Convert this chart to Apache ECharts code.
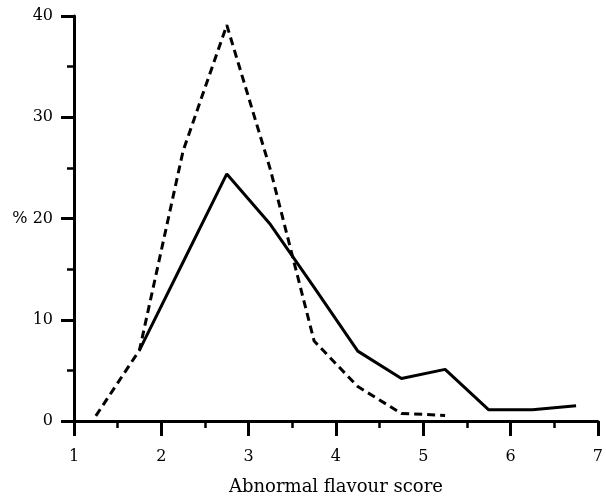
<!DOCTYPE html>
<html>
<head>
<meta charset="utf-8">
<script src="https://cdn.jsdelivr.net/npm/echarts@6/dist/echarts.min.js"></script>
<style>html,body{margin:0;padding:0;background:#fff}#c{width:606px;height:501px}</style>
</head>
<body>
<div id="c"></div>
<script>
const scores = [1.25, 1.75, 2.25, 2.75, 3.25, 3.75, 4.25, 4.75, 5.25, 5.75, 6.25, 6.75];
const solidValues = [null, 7.0, 15.7, 24.4, 19.4, 13.2, 6.9, 4.2, 5.1, 1.1, 1.1, 1.5];
const dashedValues = [0.5, 7.0, 26.7, 39.1, 24.8, 7.9, 3.4, 0.75, 0.55, null, null, null];
const xTicks = [1, 2, 3, 4, 5, 6, 7];
const yTicks = [0, 10, 20, 30, 40];

function pairs(vals) {
  const out = [];
  scores.forEach((s, i) => { if (vals[i] !== null) out.push([s, vals[i]]); });
  return out;
}

const font = 'DejaVu Serif';
const chart = echarts.init(document.getElementById('c'), null, {renderer: 'canvas'});
chart.setOption({
  animation: false,
  backgroundColor: '#fff',
  grid: {left: 74, right: 8, top: 16, bottom: 79},
  xAxis: {
    type: 'value', min: xTicks[0], max: xTicks[xTicks.length - 1], interval: 1,
    name: 'Abnormal flavour score', nameLocation: 'middle', nameGap: 57,
    nameTextStyle: {fontFamily: font, fontSize: 18, color: '#000'},
    axisLine: {show: true, onZero: false, lineStyle: {color: '#000', width: 3}},
    axisTick: {show: true, length: 15, lineStyle: {color: '#000', width: 3}},
    minorTick: {show: true, splitNumber: 2, length: 7, lineStyle: {color: '#000', width: 2.5}},
    axisLabel: {fontFamily: font, fontSize: 16, color: '#000', margin: 28},
    splitLine: {show: false}
  },
  yAxis: {
    type: 'value', min: yTicks[0], max: yTicks[yTicks.length - 1], interval: 10,
    axisLine: {show: true, onZero: false, lineStyle: {color: '#000', width: 3}},
    axisTick: {show: true, length: 13, lineStyle: {color: '#000', width: 3}},
    minorTick: {show: true, splitNumber: 2, length: 7, lineStyle: {color: '#000', width: 2.5}},
    axisLabel: {fontFamily: font, fontSize: 16, color: '#000', margin: 21,
      formatter: v => v === 20 ? '% 20' : String(v)},
    splitLine: {show: false}
  },
  series: [
    {type: 'line', data: pairs(solidValues), symbol: 'none',
      lineStyle: {color: '#000', width: 3, type: 'solid'}},
    {type: 'line', data: pairs(dashedValues), symbol: 'none',
      lineStyle: {color: '#000', width: 3, type: [8, 5]}}
  ]
});
</script>
</body>
</html>
